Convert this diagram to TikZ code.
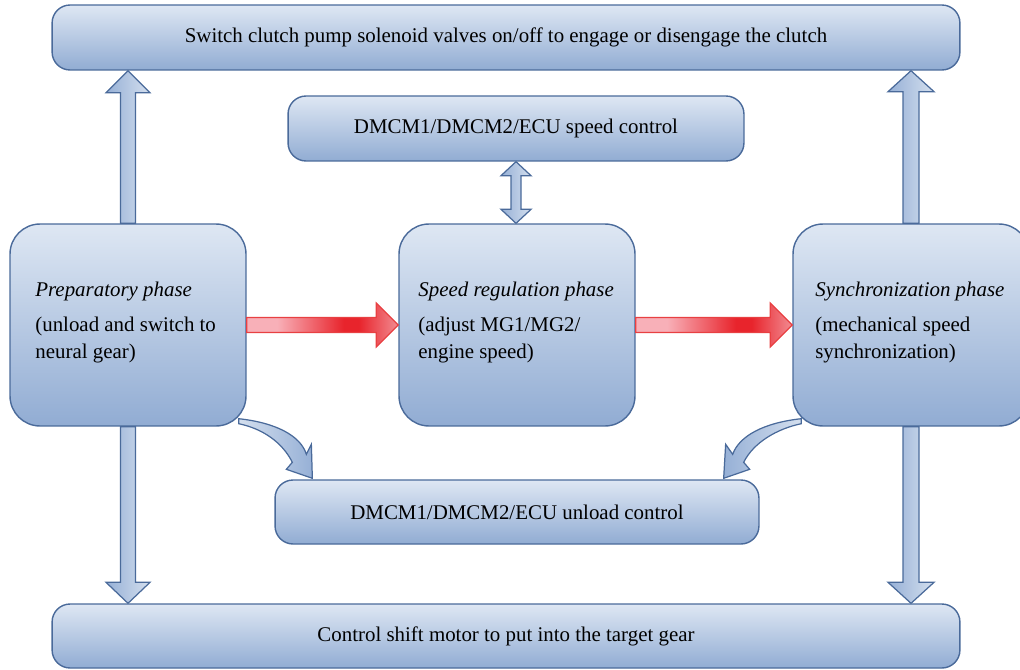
\documentclass[tikz,border=0pt]{standalone}
\usepackage{fontspec}
\setmainfont{Liberation Serif}
\usetikzlibrary{calc}
\definecolor{bordc}{RGB}{74,106,154}
\definecolor{boxtop}{RGB}{222,231,243}
\definecolor{boxbot}{RGB}{145,172,211}
\definecolor{arrL}{RGB}{150,176,214}
\definecolor{arrR}{RGB}{212,223,238}
\definecolor{rlight}{RGB}{248,176,184}
\definecolor{rdeep}{RGB}{232,36,44}
\definecolor{rtip}{RGB}{242,140,146}
\definecolor{rbord}{RGB}{232,64,66}
\pgfdeclarehorizontalshading{redarrow}{100bp}{color(0bp)=(rlight); color(25bp)=(rlight); color(35bp)=(rlight); color(57bp)=(rdeep); color(62bp)=(rdeep); color(75bp)=(rtip); color(100bp)=(rtip)}
\newcommand{\vblock}[5]{%
  \path ($(#2)!#5!(#1)$) coordinate (hb);
  \draw[barrow] ($(#1)+(-#3,0)$) -- ($(hb)+(-#3,0)$) -- ($(hb)+(-#4,0)$) -- (#2) -- ($(hb)+(#4,0)$) -- ($(hb)+(#3,0)$) -- ($(#1)+(#3,0)$) -- cycle;}
\newcommand{\hblock}[2]{%
  \path ($(#2)!0.44cm!(#1)$) coordinate (hb);
  \draw[rarrow] ($(#1)+(0,-7.5)$) -- ($(hb)+(0,-7.5)$) -- ($(hb)+(0,-22)$) -- (#2) -- ($(hb)+(0,22)$) -- ($(hb)+(0,7.5)$) -- ($(#1)+(0,7.5)$) -- cycle;}
\begin{document}
\begin{tikzpicture}[x=0.02cm,y=-0.02cm, font=\fontsize{11.9}{15.3}\selectfont,
 box/.style={draw=bordc, line width=0.8pt, top color=boxtop, bottom color=boxbot, inner sep=0pt, align=center},
 wide/.style={box, rounded corners=0.36cm, minimum height=1.3cm},
 phase/.style={box, rounded corners=0.6cm, minimum width=4.72cm, minimum height=4.04cm},
 barrow/.style={draw=bordc, line width=0.7pt, left color=arrL, right color=arrR, line join=miter},
 carrowL/.style={draw=bordc, line width=0.7pt, left color=arrR, right color=arrL},
 carrowR/.style={draw=bordc, line width=0.7pt, left color=arrL, right color=arrR},
 rarrow/.style={draw=rbord, line width=0.7pt, shading=redarrow},
 ptext/.style={anchor=base west, inner sep=0pt},
]
\clip (0,0) rectangle (1020,669);
\node[wide, minimum width=18.16cm] (top) at (506,37.5) {Switch clutch pump solenoid valves on/off to engage or disengage the clutch};
\node[wide, minimum width=9.12cm] (speed) at (516,128.5) {DMCM1/DMCM2/ECU speed control};
\node[phase] (pL) at (128,325) {};
\node[phase] (pM) at (517,325) {};
\node[phase] (pR) at (911,325) {};
\node[wide, minimum width=9.68cm, minimum height=1.28cm] (unload) at (517,512) {DMCM1/DMCM2/ECU unload control};
\node[wide, minimum width=18.16cm, minimum height=1.28cm] (bottom) at (506,636) {Control shift motor to put into the target gear};

\node[ptext] (tL1) at (35,296) {\itshape Preparatory phase};
\node[ptext] (tL2) at (35,331) {(unload and switch to};
\node[ptext] (tL3) at (35,358) {neural gear)};
\node[ptext] (tM1) at (418,296) {\itshape Speed regulation phase};
\node[ptext] (tM2) at (418,331) {(adjust MG1/MG2/};
\node[ptext] (tM3) at (418,358) {engine speed)};
\node[ptext] (tR1) at (815,296) {\itshape Synchronization phase};
\node[ptext] (tR2) at (815,331) {(mechanical speed};
\node[ptext] (tR3) at (815,358) {synchronization)};

% vertical block arrows
\coordinate (uL) at (top.south -| pL.north);
\coordinate (uR) at (top.south -| pR.north);
\coordinate (dL) at (bottom.north -| pL.south);
\coordinate (dR) at (bottom.north -| pR.south);
\vblock{pL.north}{uL}{7.5}{22}{0.44cm}
\vblock{pR.north}{uR}{8}{23}{0.42cm}
\vblock{pL.south}{dL}{7.5}{22}{0.42cm}
\vblock{pR.south}{dR}{8}{23}{0.42cm}

% double arrow
\coordinate (d1) at (speed.south);
\coordinate (d2) at (pM.north -| speed.south);
\path ($(d1)!0.28cm!(d2)$) coordinate (hb1) ($(d2)!0.28cm!(d1)$) coordinate (hb2);
\draw[barrow] (d1) -- ($(hb1)+(15,0)$) -- ($(hb1)+(5,0)$) -- ($(hb2)+(5,0)$) -- ($(hb2)+(15,0)$) -- (d2) -- ($(hb2)+(-15,0)$) -- ($(hb2)+(-5,0)$) -- ($(hb1)+(-5,0)$) -- ($(hb1)+(-15,0)$) -- cycle;

% red arrows
\hblock{pL.east}{pM.west}
\hblock{pM.east}{pR.west}

% curved arrows
\coordinate (cLs) at ($(pL.south east)+(-8,-6)$);
\coordinate (cLt) at ($(unload.north west)+(38,-1)$);
\draw[carrowL] ($(cLs)+(0,-2)$) .. controls ($(cLs)+(37,2)$) and ($(cLs)+(62,15)$) .. ($(cLt)+(-6,-24)$) -- ($(cLt)+(-1,-34)$) -- (cLt) -- ($(cLt)+(-26,-9)$) -- ($(cLt)+(-20,-16)$) .. controls ($(cLt)+(-30,-36)$) and ($(cLs)+(24,8)$) .. ($(cLs)+(0,3)$) -- cycle;
\coordinate (cRs) at ($(pR.south west)+(9,-6)$);
\coordinate (cRt) at ($(unload.north east)+(-36,-1)$);
\draw[carrowR] ($(cRs)+(0,-2)$) .. controls ($(cRs)+(-37,2)$) and ($(cRs)+(-62,15)$) .. ($(cRt)+(9,-24)$) -- ($(cRt)+(2,-34)$) -- (cRt) -- ($(cRt)+(26,-9)$) -- ($(cRt)+(20,-16)$) .. controls ($(cRt)+(30,-36)$) and ($(cRs)+(-24,8)$) .. ($(cRs)+(0,3)$) -- cycle;
\end{tikzpicture}
\end{document}
